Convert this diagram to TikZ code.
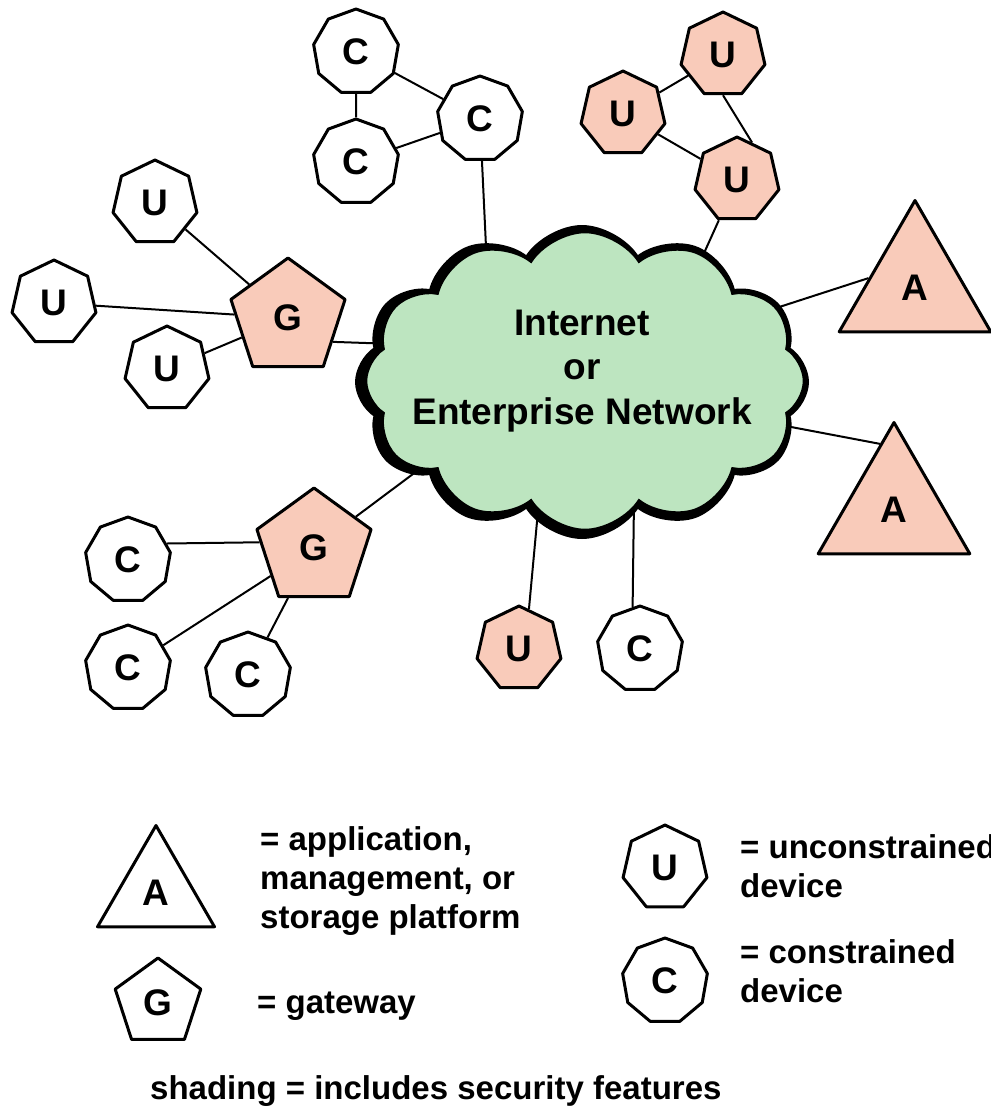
\documentclass[tikz,border=0pt]{standalone}
\usepackage{fontspec}
\setmainfont{Liberation Sans}
\usetikzlibrary{shapes.geometric,shapes.symbols}
\definecolor{pinkfill}{RGB}{249,203,186}
\definecolor{cloudgreen}{RGB}{189,229,192}
\pgfdeclarelayer{background}
\pgfsetlayers{background,main}
\begin{document}
\begin{tikzpicture}[x=1pt,y=-1pt,
  shp/.style={draw=black, line width=3pt, fill=white, inner sep=0pt, line join=round,
    font=\fontsize{37}{37}\selectfont\bfseries},
  sec/.style={fill=pinkfill},
  cdev/.style={shp, regular polygon, regular polygon sides=9, minimum size=86pt},
  udev/.style={shp, regular polygon, regular polygon sides=7, minimum size=86pt},
  gw/.style={shp, regular polygon, regular polygon sides=5, minimum size=120pt},
  app/.style={shp, regular polygon, regular polygon sides=3, minimum size=175pt},
  link/.style={draw=black, line width=2pt},
  netcloud/.style={cloud, cloud puffs=12, cloud puff arc=115, cloud ignores aspect},
  legtext/.style={font=\fontsize{33}{39}\selectfont\bfseries, align=left, inner sep=0pt, anchor=base west},
]
\useasboundingbox (0,0) rectangle (991,1109);

% cloud (black rim behind, green body on top)
\node[netcloud, minimum width=452pt, minimum height=312pt, fill=black,
      draw=black, line width=2pt] (netrim) at (582,382) {};
\node[netcloud, minimum width=438pt, minimum height=298pt, draw=black, line width=2.5pt,
      fill=cloudgreen] (net) at (585,381) {};
\node[font=\fontsize{37}{44.5}\selectfont\bfseries, align=center, inner sep=0pt] (nettext) at (582,371)
  {Internet\\or\\Enterprise Network};

% top-left constrained cluster
\node[cdev] (c1) at (356,52) {C};
\node[cdev] (c2) at (356,162) {C};
\node[cdev] (c3) at (480,119) {C};
% top-right unconstrained cluster
\node[udev,sec] (u1) at (623,114) {U};
\node[udev,sec] (u2) at (723,55) {U};
\node[udev,sec] (u3) at (737,180) {U};
% left gateway group
\node[gw,sec] (g1) at (288,318) {G};
\node[udev] (u4) at (155,203) {U};
\node[udev] (u5) at (54,303) {U};
\node[udev] (u6) at (167,369) {U};
% lower-left gateway group
\node[gw,sec] (g2) at (314,548) {G};
\node[cdev] (c4) at (128,560) {C};
\node[cdev] (c5) at (128,668) {C};
\node[cdev] (c6) at (248,675) {C};
% bottom devices
\node[udev,sec] (u7) at (519,649) {U};
\node[cdev] (c7) at (640,649) {C};
% applications
\node[app,sec] (a1) at (915,288) {A};
\node[app,sec] (a2) at (894,510) {A};

% link ends inside the cloud
\coordinate (k1) at (487,268);
\coordinate (k2) at (700,262);
\coordinate (k3) at (395,344);
\coordinate (k4) at (425,465);
\coordinate (k5) at (770,310);
\coordinate (k6) at (770,423);
\coordinate (k7) at (539,500);
\coordinate (k8) at (634,500);

\begin{pgfonlayer}{background}
\draw[link] (c1) -- (c2);
\draw[link] (c1) -- (c3);
\draw[link] (c2) -- (c3);
\draw[link] (c3) -- (k1);
\draw[link] (u1) -- (u2);
\draw[link] (u1) -- (u3);
\draw[link] (u2.-90) -- (u3.68);
\draw[link] (u3) -- (k2);
\draw[link] (u4) -- (g1);
\draw[link] (u5) -- (g1);
\draw[link] (u6) -- (g1);
\draw[link] (g1.-28) -- (k3);
\draw[link] (c4.23) -- (g2.174);
\draw[link] (c5) -- (g2);
\draw[link] (c6) -- (g2);
\draw[link] (g2) -- (k4);
\draw[link] (a1.168) -- (k5);
\draw[link] (a2.102) -- (k6);
\draw[link] (u7.76) -- (k7);
\draw[link] (c7.100) -- (k8);
\end{pgfonlayer}

% legend
\node[app, minimum size=135pt] (la) at (156,893) {A};
\node[gw, minimum size=90pt] (lg) at (158,1003) {G};
\node[udev] (lu) at (665,868) {U};
\node[cdev] (lc) at (665,981) {C};
\node[legtext] (t1) at (260,928) {= application,\\management, or\\storage platform};
\node[legtext] (t2) at (257,1013) {= gateway};
\node[legtext] (t3) at (740,897) {= unconstrained\\device};
\node[legtext] (t4) at (740,1002) {= constrained\\device};
\node[legtext] (t5) at (150,1099) {shading = includes security features};
\end{tikzpicture}
\end{document}
